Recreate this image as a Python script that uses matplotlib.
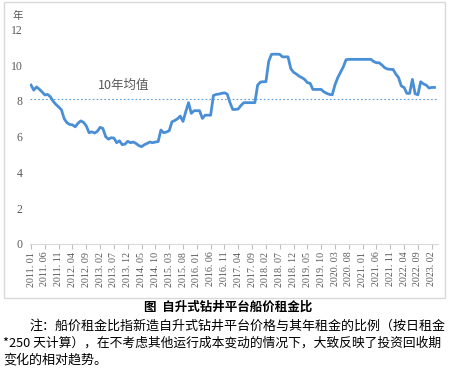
import numpy as np
import matplotlib
matplotlib.use("Agg")
from matplotlib import pyplot as plt
from matplotlib.patches import Rectangle

# 船价租金比, 月度 2011.01 起
ratio = [8.88, 8.60, 8.78, 8.65, 8.50, 8.33, 8.36, 8.23, 7.98, 7.80,
         7.66, 7.50, 7.00, 6.78, 6.68, 6.66, 6.55, 6.75, 6.88, 6.80,
         6.60, 6.22, 6.27, 6.20, 6.30, 6.52, 6.46, 6.00, 5.86, 5.94,
         5.92, 5.66, 5.77, 5.55, 5.58, 5.74, 5.66, 5.70, 5.62, 5.50,
         5.44, 5.55, 5.62, 5.70, 5.66, 5.70, 5.72, 6.37, 6.22, 6.26,
         6.33, 6.83, 6.90, 7.00, 7.15, 6.85, 7.40, 7.90, 7.30, 7.45,
         7.45, 7.45, 7.02, 7.20, 7.20, 7.20, 8.30, 8.36, 8.38, 8.42,
         8.45, 8.38, 7.90, 7.52, 7.52, 7.55, 7.75, 7.90, 7.90, 7.90,
         7.90, 7.90, 8.88, 9.05, 9.07, 9.07, 10.20, 10.60, 10.61, 10.61,
         10.60, 10.46, 10.46, 10.46, 9.80, 9.60, 9.50, 9.38, 9.30, 9.20,
         9.02, 8.98, 8.64, 8.64, 8.64, 8.64, 8.50, 8.42, 8.36, 8.34,
         8.90, 9.30, 9.60, 9.90, 10.30, 10.32, 10.32, 10.32, 10.32, 10.32,
         10.32, 10.32, 10.32, 10.32, 10.20, 10.13, 10.13, 10.00, 9.85, 9.78,
         9.76, 9.76, 9.50, 9.30, 8.83, 8.75, 8.42, 8.42, 9.20, 8.40,
         8.34, 9.07, 8.95, 8.88, 8.72, 8.75, 8.75]
mean_10y = 8.1

# 横轴标签(每 5 个月)
tick_labels = ["2011. 01", "2011. 06", "2011. 11", "2012. 04", "2012. 09",
               "2013. 02", "2013. 07", "2013. 12", "2014. 05", "2014. 10",
               "2015. 03", "2015. 08", "2016. 01", "2016. 06", "2016. 11",
               "2017. 04", "2017. 09", "2018. 02", "2018. 07", "2018. 12",
               "2019. 05", "2019. 10", "2020. 03", "2020. 08", "2021. 01",
               "2021. 06", "2021. 11", "2022. 04", "2022. 09", "2023. 02"]
y_ticks = [0, 2, 4, 6, 8, 10, 12]

caption = "图  自升式钻井平台船价租金比"
note_lines = ["注：船价租金比指新造自升式钻井平台价格与其年租金的比例（按日租金",
              "*250 天计算），在不考虑其他运行成本变动的情况下，大致反映了投资回收期",
              "变化的相对趋势。"]

cjk = ["Noto Sans CJK SC", "DejaVu Sans"]
serif = ["Liberation Serif", "DejaVu Serif"]
gray = "#595959"
W, H = 450, 370

fig = plt.figure(figsize=(4.5, 3.7), dpi=100)
fig.patches.append(Rectangle((4 / W, 1 - 298 / H), 441 / W, 296 / H,
                             transform=fig.transFigure, fill=False,
                             edgecolor="#d9d9d9", lw=1.0))

ax = fig.add_axes([30.2 / W, (H - 244) / H, 407.6 / W, 214.7 / H])
x = np.arange(len(ratio))
ax.plot(x, ratio, color="#4a8fd6", lw=2.0, solid_joinstyle="round")
ax.axhline(mean_10y, color="#5b9bd5", lw=0.8, ls=(0, (1.5, 2)))
ax.text(24.2, 8.5, "10年均值", family=cjk, fontsize=9, color=gray,
        ha="left", va="bottom")

ax.set_xlim(-0.3, 147.2)
ax.set_ylim(0, 12)
ax.set_xticks(np.arange(0, 5 * len(tick_labels), 5))
ax.set_xticklabels(tick_labels, rotation=90, family=serif, fontsize=7.2, color=gray)
ax.set_yticks(y_ticks)
ax.set_yticklabels([str(v) for v in y_ticks], family=serif, fontsize=8.5, color=gray)
ax.tick_params(axis="y", length=0, pad=5.5)
ax.tick_params(axis="x", length=3.5, color="#bfbfbf", pad=2)
for s in ["top", "left", "right"]:
    ax.spines[s].set_visible(False)
ax.spines["bottom"].set_color("#d9d9d9")

fig.text(18 / W, 1 - 16 / H, "年", family=cjk, fontsize=7.5, color=gray,
         ha="center", va="center")

fig.text(228 / W, 1 - 307 / H, caption, family=cjk, fontsize=9, weight="bold",
         ha="center", va="center")
fig.text(30 / W, 1 - 326 / H, note_lines[0], family=cjk, fontsize=9.4,
         ha="left", va="center")
fig.text(3 / W, 1 - 343 / H, note_lines[1], family=cjk, fontsize=9.2,
         ha="left", va="center")
fig.text(3 / W, 1 - 360 / H, note_lines[2], family=cjk, fontsize=9.4,
         ha="left", va="center")

fig.savefig("out.png", dpi=100)
